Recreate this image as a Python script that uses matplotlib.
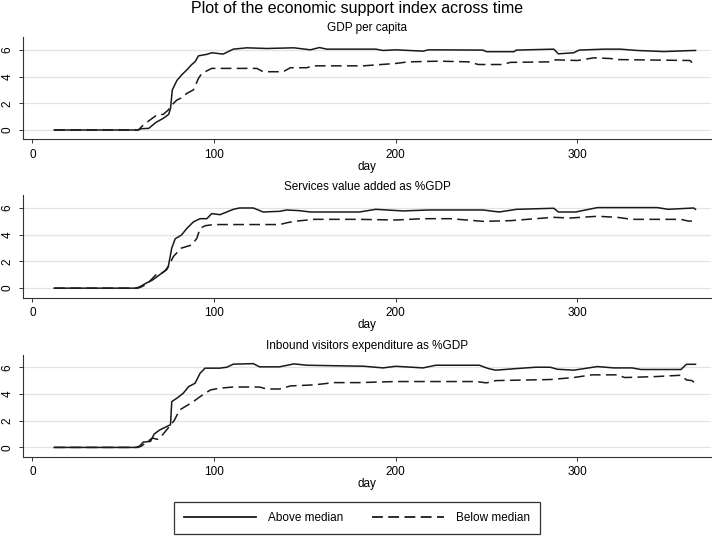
import numpy as np
import matplotlib.pyplot as plt
from matplotlib.lines import Line2D

plt.rcParams['font.family'] = ['Liberation Sans', 'DejaVu Sans']

# panel 1: GDP per capita
gdp_above_day = [12, 58, 60, 64, 68, 72, 75, 76, 77, 79.5, 82, 85, 87.7, 89.5, 91.4, 96, 98.7, 105,
                 110.6, 118, 129, 144, 153, 158, 162, 180, 189, 193, 200, 215, 218, 248, 250, 265,
                 266.5, 287, 289.5, 298, 301, 314.5, 323.6, 333, 347.5, 364, 365]
gdp_above_val = [0, 0, 0.1, 0.12, 0.57, 0.87, 1.17, 1.6, 3.0, 3.7, 4.1, 4.5, 4.9, 5.1, 5.55, 5.66, 5.78, 5.68,
                 6.05, 6.15, 6.1, 6.15, 6.0, 6.17, 6.05, 6.05, 6.05, 5.95, 6.0, 5.9, 6.0, 5.98, 5.86, 5.86,
                 5.98, 6.05, 5.7, 5.78, 5.98, 6.05, 6.05, 5.95, 5.87, 5.95, 5.95]
gdp_below_day = [12, 58.3, 61, 68.4, 72, 74.8, 76.7, 79.5, 82, 85, 88.6, 91.4, 93.3, 98.7, 123.5, 127,
                 138, 142, 151, 154.7, 180, 182, 200, 207, 224, 240, 245.5, 259, 263, 285, 288, 300,
                 309, 318, 322, 362, 364, 365]
gdp_below_val = [0, 0, 0.37, 1.12, 1.17, 1.5, 1.87, 2.24, 2.4, 2.74, 3.0, 3.86, 4.24, 4.61, 4.61, 4.36,
                 4.36, 4.66, 4.66, 4.8, 4.8, 4.8, 4.98, 5.1, 5.15, 5.1, 4.9, 4.9, 5.06, 5.1, 5.25, 5.2,
                 5.4, 5.35, 5.27, 5.2, 4.9, 4.85]

# panel 2: Services value added as %GDP
srv_above_day = [12, 57, 59, 63, 66, 70, 73, 74.8, 76.7, 78.6, 82, 85, 88.6, 92.3, 96, 98.7, 103.3,
                 110.6, 114, 121.6, 127, 136, 140, 147, 153, 180, 189, 204, 218, 248, 257, 266.5,
                 287, 289.5, 299, 311, 344, 350, 364, 365]
srv_above_val = [0, 0, 0.1, 0.4, 0.6, 1.0, 1.3, 1.63, 3.0, 3.7, 3.97, 4.47, 4.96, 5.2, 5.2, 5.58, 5.5,
                 5.9, 6.0, 6.0, 5.7, 5.75, 5.85, 5.8, 5.7, 5.7, 5.9, 5.78, 5.85, 5.85, 5.7, 5.9,
                 5.98, 5.7, 5.7, 6.03, 6.03, 5.9, 6.0, 5.9]
srv_below_day = [12, 58, 60, 63, 68, 71, 74, 77.6, 82, 87.7, 90.5, 92.3, 95, 99.6, 136, 140, 144, 155,
                 180, 200, 215, 230, 248, 263, 277, 287, 296, 311, 322, 330, 357, 361, 365]
srv_below_val = [0, 0, 0.1, 0.3, 1.0, 1.1, 1.4, 2.37, 3.0, 3.23, 3.73, 4.47, 4.67, 4.76, 4.76, 4.89, 5.0,
                 5.15, 5.15, 5.1, 5.2, 5.2, 5.0, 5.05, 5.2, 5.3, 5.25, 5.38, 5.3, 5.15, 5.15, 5.02, 5.02]

# panel 3: Inbound visitors expenditure as %GDP
inb_above_day = [12, 57, 59, 61, 65, 67, 70, 73, 76, 76.7, 79.5, 83, 86, 89.5, 92.3, 95, 103, 107,
                 110.6, 121.6, 125, 136, 144, 151, 180, 182, 193, 200, 215, 222, 246, 251, 255,
                 266.5, 277, 285, 289, 298, 311, 320, 330, 335, 357, 360, 365]
inb_above_val = [0, 0, 0.1, 0.4, 0.45, 1.0, 1.3, 1.5, 1.7, 3.43, 3.68, 4.05, 4.55, 4.8, 5.55, 5.93, 5.93, 6.0,
                 6.23, 6.27, 6.03, 6.03, 6.25, 6.15, 6.08, 6.08, 5.95, 6.07, 5.95, 6.15, 6.15, 5.9, 5.78,
                 5.9, 6.0, 6.0, 5.85, 5.78, 6.05, 5.95, 5.95, 5.83, 5.83, 6.22, 6.22]
inb_below_day = [12, 58, 60, 63, 66, 69, 72, 75, 78, 81, 88.6, 92.3, 98, 103, 110.6, 125, 129, 136,
                 142, 155, 166, 180, 200, 244, 250, 255, 285, 298, 308, 322, 326, 343, 357, 360, 363, 365]
inb_below_val = [0, 0, 0.1, 0.4, 0.7, 0.6, 1.0, 1.5, 2.0, 2.8, 3.43, 3.8, 4.3, 4.43, 4.52, 4.52, 4.37, 4.37,
                 4.6, 4.68, 4.85, 4.85, 4.93, 4.93, 4.83, 5.0, 5.08, 5.23, 5.43, 5.43, 5.23, 5.3, 5.4, 5.05,
                 5.0, 4.8]

panel_titles = ['GDP per capita', 'Services value added as %GDP', 'Inbound visitors expenditure as %GDP']
panels = [(gdp_above_day, gdp_above_val, gdp_below_day, gdp_below_val),
          (srv_above_day, srv_above_val, srv_below_day, srv_below_val),
          (inb_above_day, inb_above_val, inb_below_day, inb_below_val)]

line_col = '#1a1a1a'
fig = plt.figure(figsize=(7.14, 5.38), dpi=100)
fig.text(0.5, 0.984, 'Plot of the economic support index across time', ha='center', va='center', fontsize=11.5)

bottoms = [0.741, 0.447, 0.151]
for ax_bottom, ttl, (ad, av, bd, bv) in zip(bottoms, panel_titles, panels):
    ax = fig.add_axes([0.0327, ax_bottom, 0.963, 0.19])
    for y in [0, 2, 4, 6]:
        ax.axhline(y, color='#e3e3e3', lw=0.9, zorder=0)
    ax.plot(ad, av, color=line_col, lw=1.1)
    ax.plot(bd, bv, color=line_col, lw=1.1, dashes=(7, 3.5))
    ax.set_xlim(-5, 373.5)
    ax.set_ylim(-0.7, 6.95)
    ax.set_xticks([0, 100, 200, 300])
    ax.set_yticks([0, 2, 4, 6])
    ax.set_yticklabels(['0', '2', '4', '6'], rotation=90, va='center')
    ax.tick_params(axis='both', labelsize=8.5, length=3, width=0.7, color='#333333')
    ax.tick_params(axis='x', pad=4)
    ax.tick_params(axis='y', pad=4)
    for s in ['top', 'right']:
        ax.spines[s].set_visible(False)
    for s in ['left', 'bottom']:
        ax.spines[s].set_color('#333333')
        ax.spines[s].set_linewidth(0.8)
    ax.set_xlabel('day', fontsize=8.5, labelpad=0)
    ax.text(0.5, 1.085, ttl, transform=ax.transAxes, ha='center', va='center', fontsize=8.5)

handles = [Line2D([], [], color=line_col, lw=1.3),
           Line2D([], [], color=line_col, lw=1.3, dashes=(6, 3))]
leg = fig.legend(handles, ['Above median', 'Below median'], loc='center', bbox_to_anchor=(0.5, 0.037),
                 ncol=2, fontsize=8.5, frameon=True, fancybox=False, edgecolor='black',
                 handlelength=6.1, handletextpad=1.05, columnspacing=2.4, borderpad=0.85)
leg.get_frame().set_linewidth(0.9)

plt.savefig('out.png', dpi=100)
